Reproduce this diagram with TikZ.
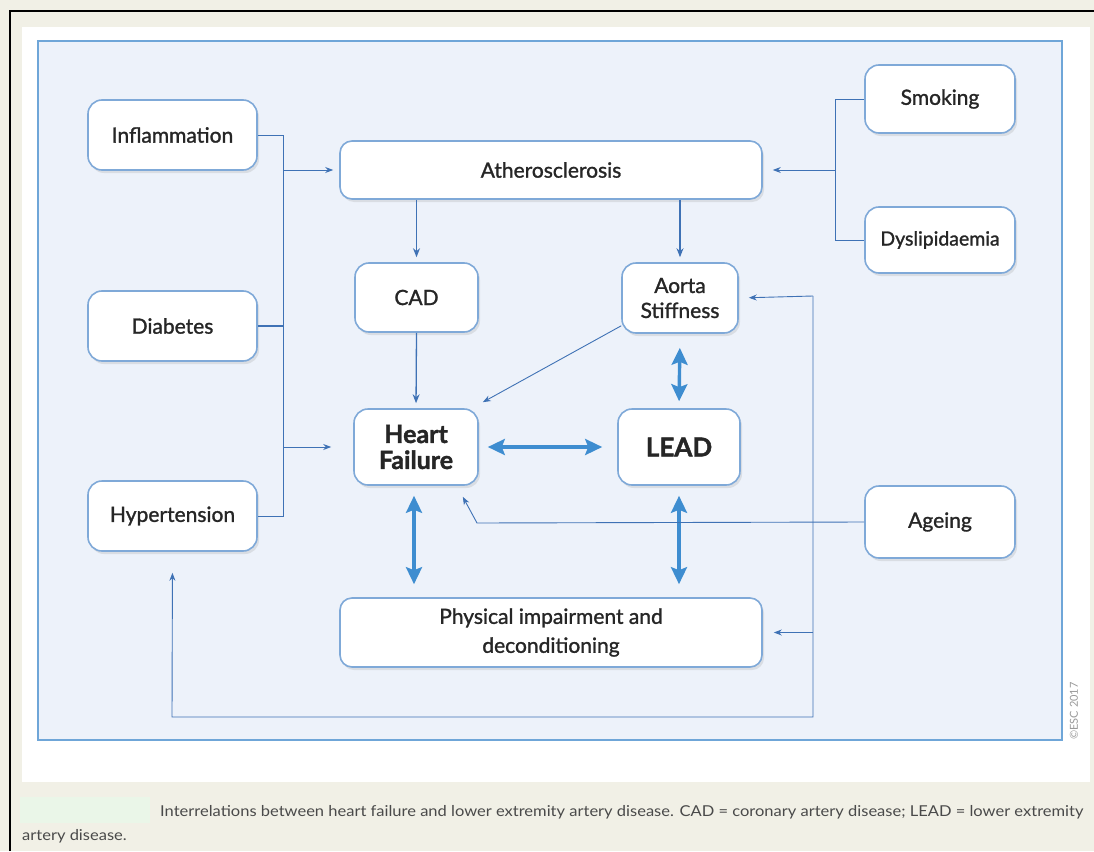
\documentclass[tikz,border=0pt]{standalone}
\usepackage{fontspec}
\setmainfont{Lato}
\newfontfamily\lbl{Lato}[FakeBold=1.3]
\newfontfamily\lblb{Lato}[FakeBold=1.6, UprightFont=*, BoldFont=* Bold]
\usetikzlibrary{arrows.meta,shadows,calc}
\definecolor{beige}{HTML}{F1F0E6}
\definecolor{panel}{HTML}{EDF2FA}
\definecolor{panelb}{HTML}{6FA6D8}
\definecolor{nodeb}{HTML}{7FA9D8}
\definecolor{thinc}{HTML}{3F72B5}
\definecolor{thickc}{HTML}{3E8DD0}
\definecolor{txt}{HTML}{262626}
\definecolor{capc}{HTML}{4A4A4A}
\definecolor{capg}{HTML}{EAF6E8}
\begin{document}
\begin{tikzpicture}[x=1pt,y=-1pt,
  box/.style={draw=nodeb, line width=1.6pt, fill=white, rounded corners=14pt,
    align=center, text=txt, font=\lbl\fontsize{21}{28}\selectfont, inner sep=0pt,
    drop shadow={opacity=0.18, shadow xshift=2pt, shadow yshift=-3pt}},
  bigbox/.style={box, font=\lblb\fontsize{25}{26}\bfseries\selectfont},
  thinl/.style={draw=thinc, line width=0.9pt},
  thinar/.style={thinl, -{Stealth[length=8pt,width=6pt]}},
  medar/.style={draw=thinc, line width=1.3pt, -{Stealth[length=9pt,width=7pt]}},
  thickar/.style={draw=thickc, line width=3.4pt,
    {Stealth[length=17pt,width=16pt,inset=3pt]}-{Stealth[length=17pt,width=16pt,inset=3pt]}},
]
\useasboundingbox (0,0) rectangle (1094,851);
\fill[beige] (0,0) rectangle (1094,851);
\draw[black, line width=2.5pt] (10,851) -- (10,11) -- (1094,11);
\fill[white] (22,27) rectangle (1090,782);
\draw[panelb, fill=panel, line width=2.8pt] (38,41) rectangle (1062,740);

% nodes
\node[box, minimum width=169pt, minimum height=70pt] (infl) at (172.5,135) {Inflammation};
\node[box, minimum width=169pt, minimum height=70pt] (diab) at (172.5,326) {Diabetes};
\node[box, minimum width=169pt, minimum height=70pt] (hyp) at (172.5,516) {Hypertension};
\node[box, minimum width=422pt, minimum height=58pt, rounded corners=12pt] (ath) at (551,170) {Atherosclerosis};
\node[box, minimum width=150pt, minimum height=68pt] (smk) at (940,99) {Smoking};
\node[box, minimum width=150pt, minimum height=66pt, font=\lbl\fontsize{19.5}{22}\selectfont] (dys) at (940,240) {Dyslipidaemia};
\node[box, minimum width=123pt, minimum height=69pt] (cad) at (416.5,297.5) {CAD};
\node[box, minimum width=116pt, minimum height=70pt, font=\lbl\fontsize{21}{25}\selectfont] (aor) at (680,298) {Aorta\\Stiffness};
\node[bigbox, minimum width=124pt, minimum height=76pt] (hf) at (416,447) {Heart\\Failure};
\node[bigbox, minimum width=122pt, minimum height=76pt, font=\lblb\fontsize{26}{28}\bfseries\selectfont] (lead) at (679,447) {LEAD};
\node[box, minimum width=150pt, minimum height=72pt] (age) at (940,522) {Ageing};
\node[box, minimum width=422pt, minimum height=69pt, rounded corners=12pt, font=\lbl\fontsize{21}{29}\selectfont] (phys) at (551,632.5) {Physical impairment and\\deconditioning};

% left bus
\coordinate (lb) at (283,135);
\draw[thinl] (infl.east) -- (lb) -- (lb |- hyp.east) -- (hyp.east);
\draw[draw=thinc, line width=1.6pt] (diab.east) -- (diab.east -| lb);
\draw[thinar, shorten >=6pt] (ath.west -| lb) -- (ath.west);
\draw[thinar, shorten >=22pt] (hf.west -| lb) -- (hf.west);

% right bus
\coordinate (rb) at (835,99);
\draw[thinl] (smk.west) -- (rb) -- (rb |- dys.west) -- (dys.west);
\draw[thinar, shorten >=10pt] (ath.east -| rb) -- (ath.east);

% atherosclerosis down
\draw[medar, shorten >=5pt] (ath.south -| cad.north) -- (cad.north);
\draw[medar, shorten >=5pt] (ath.south -| aor.north) -- (aor.north);
\draw[medar, shorten >=5pt] (cad.south) -- (hf.north);
\draw[thinar] ($(aor.south west)+(0,-8)$) -- ($(hf.north east)+(4,-6)$);

% thick double arrows
\coordinate (hfx) at (414,0);
\draw[thickar, shorten <=14pt, shorten >=7pt] (aor.south) -- (lead.north);
\draw[thickar, shorten <=9pt, shorten >=15pt] (hf.east) -- (lead.west);
\draw[thickar, shorten <=10pt, shorten >=13pt] (hf.south -| hfx) -- (phys.north -| hfx);
\draw[thickar, shorten <=10pt, shorten >=13pt] (lead.south) -- (lead.south |- phys.north);

% ageing
\coordinate (ag1) at (477,523);
\draw[thinar] (age.west) -- (ag1) -- ($(hf.south east)+(-16,11)$);

% right loop
\coordinate (lt) at (813,296);
\coordinate (lbot) at (813,717);
\coordinate (lleft) at (172,717);
\draw[thinar, shorten >=10pt] (lt) -- (aor.east);
\draw[thinar, shorten >=11pt] (lt |- phys.east) -- (phys.east);
\draw[thinar, shorten >=21pt] (lt) -- (lbot) -- (lleft) -- (hyp.south);

% ESC
\node[rotate=90, text=gray!80, font=\fontsize{11}{12}\selectfont, inner sep=0pt] (esc) at (1074,711) {©ESC 2017};

% caption
\fill[capg] (20,797) rectangle (150,823);
\node[anchor=base west, inner sep=0pt, text=capc, font=\fontsize{15}{16}\selectfont, xscale=1.1, transform shape] (cap1) at (160,816) {Interrelations between heart failure and lower extremity artery disease. CAD = coronary artery disease; LEAD = lower extremity};
\node[anchor=base west, inner sep=0pt, text=capc, font=\fontsize{15}{16}\selectfont, xscale=1.1, transform shape] (cap2) at (22,840) {artery disease.};
\end{tikzpicture}
\end{document}
